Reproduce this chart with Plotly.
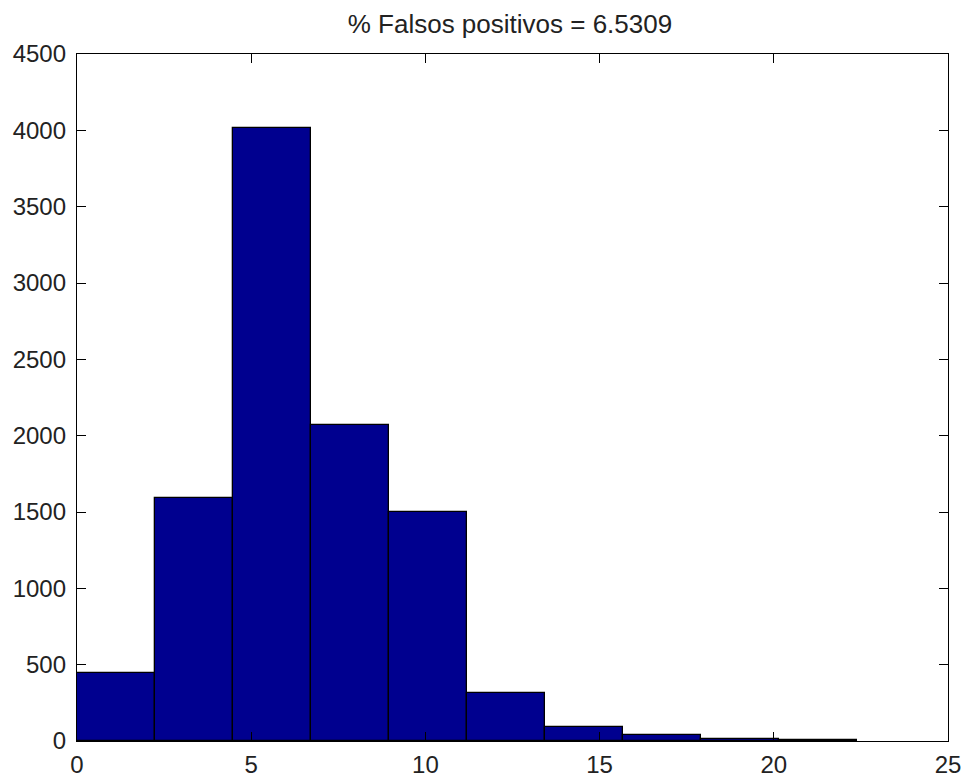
import plotly.graph_objects as go

bin_edges = [0.0, 2.24, 4.48, 6.72, 8.96, 11.2, 13.44, 15.68, 17.92, 20.16, 22.4]
counts = [445, 1595, 4015, 2068, 1500, 315, 92, 40, 12, 8]
x_ticks = [0, 5, 10, 15, 20, 25]
y_ticks = [0, 500, 1000, 1500, 2000, 2500, 3000, 3500, 4000, 4500]
title_text = "% Falsos positivos = 6.5309"

centers = [(bin_edges[i] + bin_edges[i + 1]) / 2 for i in range(len(counts))]
widths = [bin_edges[i + 1] - bin_edges[i] for i in range(len(counts))]

fig = go.Figure(go.Bar(
    x=centers, y=counts, width=widths,
    marker=dict(color="rgb(0,0,143)", line=dict(color="black", width=1.3)),
))

font = dict(family="Liberation Sans, Arial, sans-serif", size=24, color="#222222")

fig.update_layout(
    width=964, height=779,
    margin=dict(l=77, r=16, t=54, b=38),
    paper_bgcolor="white", plot_bgcolor="white",
    showlegend=False,
    font=font,
    title=dict(text=title_text, x=0.529, xanchor="center", y=0.969, yanchor="middle",
               font=dict(family="Liberation Sans, Arial, sans-serif", size=26, color="#222222")),
    bargap=0,
)
fig.update_xaxes(
    range=[0, 25], tickvals=x_ticks, ticktext=[str(v) for v in x_ticks],
    ticks="inside", ticklen=9, tickwidth=1.3, tickcolor="black",
    showline=True, linecolor="black", linewidth=1.3, mirror="ticks",
    showgrid=False, zeroline=False, tickfont=font, automargin=False,
    ticklabelstandoff=2,
)
fig.update_yaxes(
    range=[0, 4500], tickvals=y_ticks, ticktext=[str(v) for v in y_ticks],
    ticks="inside", ticklen=9, tickwidth=1.3, tickcolor="black",
    showline=True, linecolor="black", linewidth=1.3, mirror="ticks",
    showgrid=False, zeroline=False, tickfont=font, automargin=False,
    ticklabelstandoff=5,
)

fig.write_html("out.html", config={"responsive": False},
               post_script="document.body.style.margin='0';document.documentElement.style.overflow='hidden';")
